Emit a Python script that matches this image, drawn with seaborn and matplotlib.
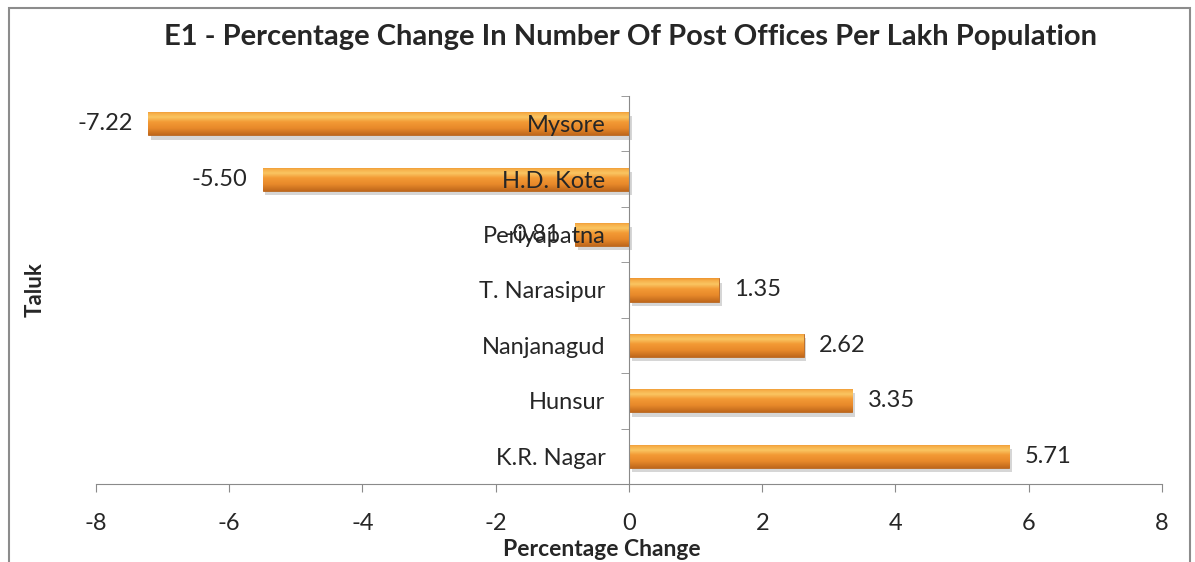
import numpy as np
import pandas as pd
import seaborn as sns
import matplotlib.pyplot as plt
import matplotlib.patheffects as pe
from matplotlib.colors import LinearSegmentedColormap
from matplotlib.patches import Rectangle

# Data (top to bottom)
taluks = ['Mysore', 'H.D. Kote', 'Periyapatna', 'T. Narasipur', 'Nanjanagud', 'Hunsur', 'K.R. Nagar']
pct_change = [-7.22, -5.50, -0.81, 1.35, 2.62, 3.35, 5.71]
x_ticks = [-8, -6, -4, -2, 0, 2, 4, 6, 8]

df = pd.DataFrame({'Taluk': taluks, 'Change': pct_change})

sns.set_style('white')
plt.rcParams['font.family'] = ['Lato', 'DejaVu Sans']

fig = plt.figure(figsize=(11.95, 5.62), dpi=100)
ax = fig.add_axes([96 / 1195, 1 - 484 / 562, (1162 - 96) / 1195, (484 - 96) / 562])

sns.barplot(data=df, x='Change', y='Taluk', orient='h', color='#EC8F2C',
            width=0.42, ax=ax, edgecolor='#B8651E', linewidth=0.6)

# orange gradient fill clipped to each bar
grad = LinearSegmentedColormap.from_list('bar', [
    (0.0, '#EE9530'), (0.1, '#F7B04A'), (0.25, '#FAC662'),
    (0.45, '#F39A35'), (0.72, '#E8892A'), (1.0, '#C0681C')])
g = np.linspace(0, 1, 64).reshape(-1, 1)
for p in list(ax.patches):
    p.set_path_effects([pe.SimplePatchShadow(offset=(2, -3), shadow_rgbFace='#7a7a7a', alpha=0.3),
                        pe.Normal()])
    x0, y0 = p.get_x(), p.get_y()
    w, h = p.get_width(), p.get_height()
    im = ax.imshow(g, cmap=grad, aspect='auto', origin='upper',
                   extent=[x0, x0 + w, y0 + h, y0], zorder=p.get_zorder() + 0.1)
    im.set_clip_path(p)

ax.set_xlim(-8, 8)
ax.set_ylim(6.5, -0.5)
ax.set_xticks(x_ticks)
ax.set_xticklabels([str(t) for t in x_ticks])
ax.set_axisbelow(False)
ax.yaxis.set_zorder(10)

# values at bar ends
for i, v in enumerate(pct_change):
    if v < 0:
        ax.annotate(f'{v:.2f}', (v, i), xytext=(-11, 0), textcoords='offset points',
                    ha='right', va='center', fontsize=17, zorder=12)
    else:
        ax.annotate(f'{v:.2f}', (v, i), xytext=(11, 0), textcoords='offset points',
                    ha='left', va='center', fontsize=17, zorder=12)

# axes styling
for s in ['top', 'right']:
    ax.spines[s].set_visible(False)
ax.spines['left'].set_position(('data', 0))
ax.spines['left'].set_color('#8a8a8a')
ax.spines['bottom'].set_color('#8a8a8a')
ax.spines['left'].set_zorder(11)
ax.set_yticks(np.arange(-0.5, 7, 1), minor=True)
ax.tick_params(axis='y', which='major', length=0, pad=17, labelsize=17)
ax.tick_params(axis='y', which='minor', length=6, color='#8a8a8a', direction='out', left=True)
ax.tick_params(axis='x', which='major', length=6, color='#8a8a8a', direction='out',
               bottom=True, pad=15, labelsize=17)

ax.set_ylabel('Taluk', fontsize=16, fontweight='bold')
ax.yaxis.set_label_coords((46 - 96) / 1066, 0.5)
ax.set_xlabel('Percentage Change', fontsize=16.5, fontweight='bold')
ax.xaxis.set_label_coords((602 - 96) / 1066, -(549 - 484) / 388)
ax.xaxis.label.set_va('center')

fig.text(630 / 1195, 1 - 37 / 562, 'E1 - Percentage Change In Number Of Post Offices Per Lakh Population',
         ha='center', va='center', fontsize=21, fontweight='bold')

# chart border
fig.patches.append(Rectangle((9 / 1195, -0.02), (1190 - 9) / 1195, 1 - 8 / 562 + 0.02,
                             transform=fig.transFigure, fill=False, edgecolor='#8c8c8c', linewidth=1.5))

fig.savefig('out.png', dpi=100)
